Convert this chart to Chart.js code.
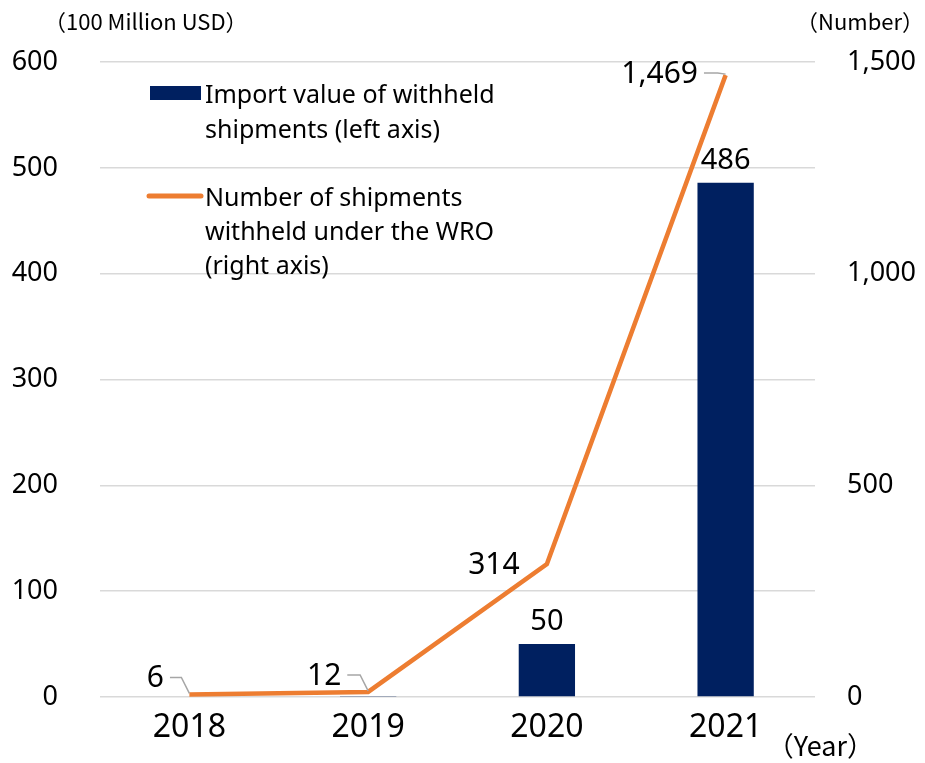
<!DOCTYPE html>
<html>
<head>
<meta charset="utf-8">
<script src="https://cdn.jsdelivr.net/npm/chart.js@4"></script>
<style>
  html, body { margin: 0; padding: 0; background: #fff; }
  #wrap { width: 925px; height: 763px; position: relative; }
</style>
</head>
<body>
<div id="wrap"><canvas id="chart" width="925" height="763"></canvas></div>
<script>
// ── Data ──────────────────────────────────────────────────────
const years        = ['2018', '2019', '2020', '2021'];
const importValue  = [0, 0.4, 50, 486];      // 100 million USD (left axis)
const shipments    = [6, 12, 314, 1469];     // number (right axis)
const barLabels    = ['', '', '50', '486'];
const lineLabels   = ['6', '12', '314', '1,469'];
const leftTicks    = [0, 100, 200, 300, 400, 500, 600];
const rightTicks   = [0, 500, 1000, 1500];

const NAVY   = '#002060';
const ORANGE = '#ED7D31';
const FONT   = '"Noto Sans", "Open Sans", sans-serif';
const CJK    = '"Noto Sans CJK JP", "Noto Sans", sans-serif';

// ── Labels, legend and axis titles ───────────────────────────
const annotate = {
    id: 'annotate',
    afterDatasetsDraw(chart) {
        const ctx = chart.ctx;
        const x  = chart.scales.x;
        const yL = chart.scales.yL;
        const yR = chart.scales.yR;
        ctx.save();
        ctx.fillStyle = '#000';
        ctx.textBaseline = 'alphabetic';

        // bar value labels
        ctx.font = '29px ' + FONT;
        ctx.textAlign = 'center';
        importValue.forEach((v, i) => {
            if (!barLabels[i]) return;
            ctx.fillText(barLabels[i], x.getPixelForValue(i), yL.getPixelForValue(v) - 14);
        });

        // line value labels with leader lines
        const offs = [
            { dx: -34, dy: -7,  lead: true  },
            { dx: -44, dy: -7,  lead: true  },
            { dx: -53, dy: 10,  lead: false },
            { dx: -66, dy: 8,   lead: true  }
        ];
        ctx.font = '30px ' + FONT;
        shipments.forEach((v, i) => {
            const px = x.getPixelForValue(i);
            const py = yR.getPixelForValue(v);
            const o  = offs[i];
            ctx.textAlign = 'center';
            ctx.fillText(lineLabels[i], px + o.dx, py + o.dy);
            if (o.lead) {
                const w = ctx.measureText(lineLabels[i]).width;
                const sx = px + o.dx + w / 2 + 6;
                const sy = py + o.dy - 10;
                ctx.strokeStyle = '#a6a6a6';
                ctx.lineWidth = 1.5;
                ctx.beginPath();
                ctx.moveTo(sx, sy);
                ctx.lineTo(px - 8, sy);
                ctx.lineTo(px, py - 1);
                ctx.stroke();
            }
        });

        // legend
        ctx.fillStyle = NAVY;
        ctx.fillRect(150, 86, 51, 14);
        ctx.strokeStyle = ORANGE;
        ctx.lineWidth = 5;
        ctx.lineCap = 'round';
        ctx.beginPath();
        ctx.moveTo(149, 196);
        ctx.lineTo(201, 196);
        ctx.stroke();
        ctx.fillStyle = '#000';
        ctx.textAlign = 'left';
        ctx.font = '25px ' + FONT;
        ctx.fillText('Import value of withheld', 205, 103);
        ctx.fillText('shipments (left axis)', 205, 138);
        ctx.fillText('Number of shipments', 205, 206);
        ctx.fillText('withheld under the WRO', 205, 240);
        ctx.fillText('(right axis)', 205, 274);

        // axis titles
        ctx.font = '22px ' + CJK;
        ctx.fillText('（100 Million USD）', 44, 30);
        ctx.textAlign = 'right';
        ctx.fillText('（Number）', 924, 30);
        ctx.font = '27px ' + CJK;
        ctx.fillText('（Year）', 874, 756);
        ctx.restore();
    }
};

// ── Chart ─────────────────────────────────────────────────────
new Chart(document.getElementById('chart'), {
    data: {
        labels: years,
        datasets: [
            {
                type: 'line',
                label: 'Number of shipments withheld under the WRO (right axis)',
                data: shipments,
                yAxisID: 'yR',
                borderColor: ORANGE,
                borderWidth: 4.5,
                pointRadius: 0,
                tension: 0,
                order: 0
            },
            {
                type: 'bar',
                label: 'Import value of withheld shipments (left axis)',
                data: importValue,
                yAxisID: 'yL',
                backgroundColor: NAVY,
                barPercentage: 0.63,
                categoryPercentage: 0.5,
                order: 1
            }
        ]
    },
    options: {
        responsive: false,
        animation: false,
        layout: { padding: { top: 62, right: 0, bottom: 0, left: 0 } },
        plugins: { legend: { display: false }, tooltip: { enabled: false } },
        scales: {
            x: {
                grid: { display: false },
                border: { display: false },
                ticks: { color: '#000', font: { family: FONT, size: 32 }, padding: 4 },
                afterFit: s => { s.height = 66; }
            },
            yL: {
                position: 'left',
                min: 0, max: 600,
                afterBuildTicks: s => { s.ticks = leftTicks.map(v => ({ value: v })); },
                grid: { color: '#d9d9d9', lineWidth: 1.5, drawTicks: false },
                border: { display: false },
                ticks: { color: '#000', font: { family: FONT, size: 27 }, padding: 42 },
                afterFit: s => { s.width = 100; }
            },
            yR: {
                position: 'right',
                min: 0, max: 1500,
                afterBuildTicks: s => { s.ticks = rightTicks.map(v => ({ value: v })); },
                grid: { display: false, drawTicks: false },
                border: { display: false },
                ticks: {
                    color: '#000', font: { family: FONT, size: 27 }, padding: 32,
                    callback: v => v.toLocaleString('en-US')
                },
                afterFit: s => { s.width = 110; }
            }
        }
    },
    plugins: [annotate]
});
</script>
</body>
</html>
